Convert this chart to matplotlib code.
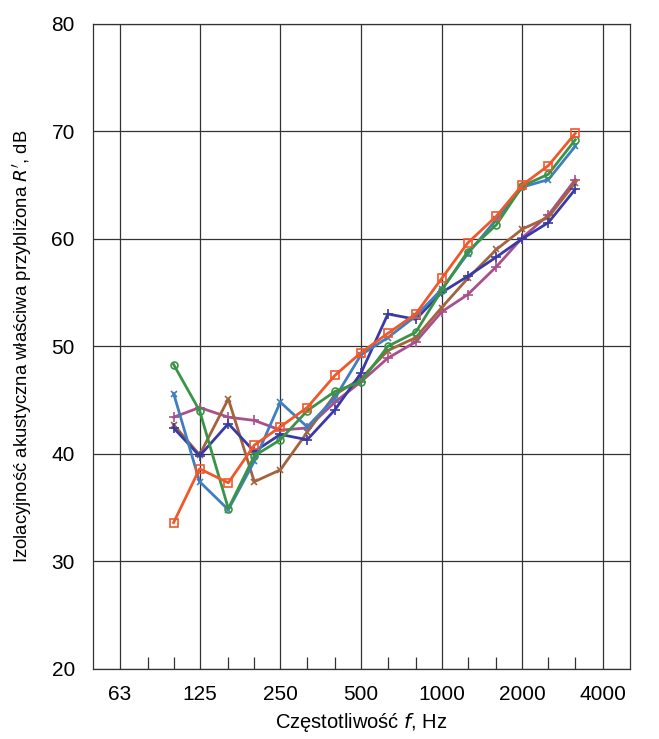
import numpy as np
import matplotlib.pyplot as plt
from matplotlib.ticker import FixedLocator, NullFormatter

plt.rcParams['font.family'] = ['Liberation Sans', 'DejaVu Sans']

# 1/3 octave band centre frequencies
freq = [100, 125, 160, 200, 250, 315, 400, 500, 630, 800,
        1000, 1250, 1600, 2000, 2500, 3150]

# sound reduction index R', dB
orange = [33.6, 38.6, 37.3, 40.8, 42.5, 44.3, 47.3, 49.4, 51.2, 53.0,
          56.3, 59.6, 62.1, 65.0, 66.8, 69.8]
green = [48.3, 44.0, 34.9, 39.8, 41.3, 44.0, 45.8, 46.7, 50.0, 51.3,
         55.2, 58.8, 61.3, 64.9, 66.0, 69.2]
light_blue = [45.6, 37.4, 34.8, 39.3, 44.8, 42.5, 45.2, 49.2, 50.8, 52.8,
              55.3, 58.6, 61.8, 64.8, 65.5, 68.6]
dark_blue = [42.4, 39.8, 42.8, 40.2, 41.8, 41.3, 44.1, 47.5, 53.0, 52.5,
             55.0, 56.5, 58.3, 60.0, 61.5, 64.6]
brown = [42.7, 39.9, 45.1, 37.4, 38.5, 42.0, 45.5, 47.0, 49.6, 50.8,
         53.6, 56.3, 59.0, 60.9, 62.0, 65.2]
mauve = [43.4, 44.3, 43.4, 43.1, 42.2, 42.4, 44.8, 46.7, 48.9, 50.4,
         53.2, 54.8, 57.4, 60.1, 62.2, 65.5]

oct_ticks = [63, 125, 250, 500, 1000, 2000, 4000]
oct_labels = ['63', '125', '250', '500', '1000', '2000', '4000']
third_ticks = [80, 100, 160, 200, 315, 400, 630, 800, 1250, 1600, 2500, 3150]

fig = plt.figure(figsize=(6.59, 7.39), dpi=100)
ax = fig.add_axes([0.141, 0.095, 0.815, 0.873])

ax.plot(freq, mauve, color='#a8508e', lw=2, marker='+', ms=7, mew=1.2)
ax.plot(freq, brown, color='#a5623c', lw=2, marker='x', ms=5, mew=1.2)
ax.plot(freq, dark_blue, color='#3a3aa6', lw=2, marker='+', ms=7, mew=1.2)
ax.plot(freq, light_blue, color='#3f7fc0', lw=2, marker='x', ms=5, mew=1.2)
ax.plot(freq, green, color='#3a9448', lw=2, marker='o', ms=5,
        mfc='none', mew=1.2)
ax.plot(freq, orange, color='#f0582a', lw=2, marker='s', ms=6,
        mfc='none', mew=1.2)

ax.set_xscale('log')
ax.set_xlim(50, 5040)
ax.set_ylim(20, 80)

ax.xaxis.set_major_locator(FixedLocator(oct_ticks))
ax.set_xticklabels(oct_labels)
ax.xaxis.set_minor_locator(FixedLocator(third_ticks))
ax.xaxis.set_minor_formatter(NullFormatter())
ax.set_yticks(range(20, 81, 10))

ax.grid(True, which='major', color='#333333', lw=0.9)
ax.tick_params(axis='x', which='major', length=0, pad=12, labelsize=15)
ax.tick_params(axis='x', which='minor', direction='in', length=9,
               width=0.9, color='#333333', top=False)
ax.tick_params(axis='y', which='major', length=0, pad=13, labelsize=15)
for sp in ax.spines.values():
    sp.set_color('#333333')
    sp.set_linewidth(0.9)

ax.set_xlabel('Częstotliwość $f$, Hz', fontsize=14.5)
ax.xaxis.set_label_coords(0.5, -0.066)
ax.set_ylabel("Izolacyjność akustyczna właściwa przybliżona $R'$, dB",
              fontsize=13.3)
ax.yaxis.set_label_coords(-0.11, 0.5)

fig.savefig('out.png', dpi=100)
